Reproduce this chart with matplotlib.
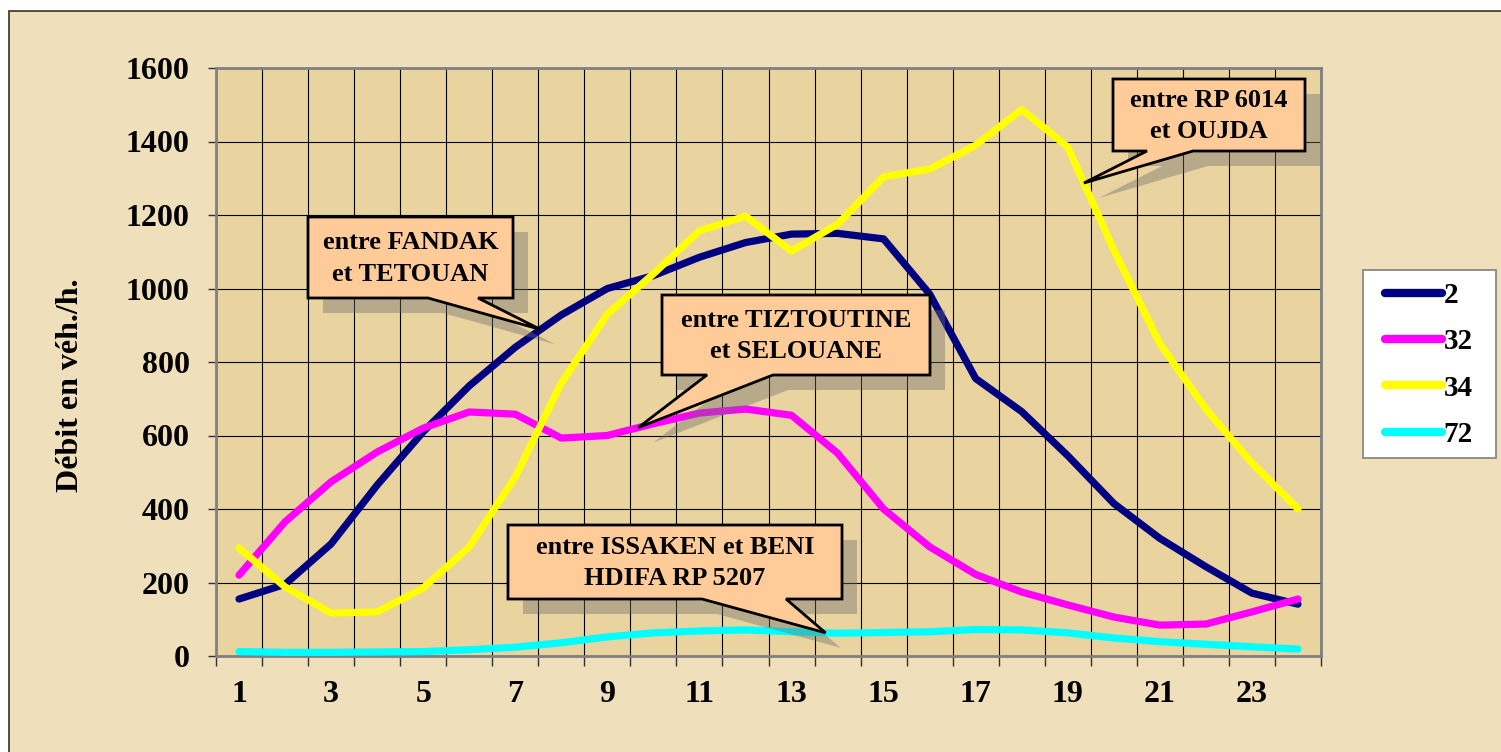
import numpy as np
import matplotlib
matplotlib.use('Agg')
import matplotlib.pyplot as plt
from matplotlib.patches import Polygon, Rectangle
from matplotlib.lines import Line2D

# hourly traffic (veh/h) per road
hours = list(range(1, 25))
route_2 = [155, 195, 305, 465, 610, 735, 840, 928, 1000, 1035, 1085, 1125, 1148, 1150, 1135, 985,
           755, 665, 545, 415, 320, 243, 171, 141]
route_32 = [220, 365, 474, 555, 620, 664, 658, 593, 600, 632, 661, 672, 655, 552, 400, 297,
            222, 174, 139, 106, 84, 87, 120, 155]
route_34 = [294, 188, 117, 120, 185, 297, 487, 743, 930, 1040, 1157, 1197, 1102, 1175, 1304, 1325,
            1390, 1487, 1385, 1105, 850, 672, 525, 400]
route_72 = [12, 10, 10, 11, 12, 17, 24, 36, 52, 63, 68, 71, 66, 62, 64, 66,
            72, 71, 63, 49, 39, 32, 25, 19]

series = [route_2, route_32, route_34, route_72]
series_names = ['2', '32', '34', '72']
series_colors = ['#000080', '#FF00FF', '#FFFF00', '#00FFFF']

y_ticks = [0, 200, 400, 600, 800, 1000, 1200, 1400, 1600]
x_tick_labels = [1, 3, 5, 7, 9, 11, 13, 15, 17, 19, 21, 23]
y_label = 'Débit en véh./h.'

# callout text, series index, hour position of the pointer
callout_texts = ['entre FANDAK\net TETOUAN', 'entre TIZTOUTINE\net SELOUANE',
                 'entre RP 6014\net OUJDA', 'entre ISSAKEN et BENI\nHDIFA RP 5207']
callout_series = [0, 1, 2, 3]
callout_hours = [7.55, 9.67, 19.35, 13.74]

W, H = 1501, 752
SERIF = 'Liberation Serif'

fig = plt.figure(figsize=(W / 100, H / 100), dpi=100, facecolor='white')


def fx(px):
    return px / W


def fy(py):
    return 1 - py / H


# outer chart frame
fig.patches.append(Rectangle((fx(9), fy(770)), fx(1520 - 9), fy(11) - fy(770),
                             transform=fig.transFigure, facecolor='#F0DFBB',
                             edgecolor='#3a3020', lw=1.2, zorder=-5))

ax = fig.add_axes([fx(216), fy(656), fx(1321 - 216), fy(68) - fy(656)])
ax.set_zorder(1)
ax.set_facecolor('#E9D39F')

for vals, name, col in zip(series, series_names, series_colors):
    ax.plot(hours, vals, color=col, lw=5.2, label=name, zorder=3,
            solid_capstyle='round', solid_joinstyle='round')

ax.set_xlim(0.5, 24.5)
ax.set_ylim(0, 1600)
ax.set_yticks(y_ticks)
ax.set_xticks(x_tick_labels)
ax.set_xticks(np.arange(0.5, 25, 1), minor=True)
ax.grid(which='minor', axis='x', color='black', lw=0.8, zorder=1)
ax.grid(which='major', axis='y', color='black', lw=0.8, zorder=1)
ax.grid(which='major', axis='x', visible=False)

for s in ax.spines.values():
    s.set_color('#808080')
    s.set_linewidth(2)

ax.tick_params(axis='y', length=6, width=1, color='#303030', pad=13,
               labelsize=23)
ax.tick_params(axis='x', which='major', length=0, pad=17, labelsize=23)
ax.tick_params(axis='x', which='minor', length=7.5, width=1, color='#303030')
for lbl in ax.get_xticklabels() + ax.get_yticklabels():
    lbl.set_fontfamily(SERIF)
    lbl.set_fontweight('bold')

ax.set_ylabel(y_label, fontfamily=SERIF, fontweight='bold', fontsize=23)
ax.yaxis.set_label_coords(-0.1186, 0.461)

# callout boxes: box (x0, y0, x1, y1) and tail base (b0, b1) in pixels from top-left
boxes = [(308, 217, 513, 298), (662, 295, 930, 375), (1113, 79, 1305, 151), (508, 525, 842, 599)]
bases = [(428, 478), (707, 773), (1147, 1193), (702, 786)]

to_fig = fig.transFigure.inverted()
for text, si, xh, box, base in zip(callout_texts, callout_series, callout_hours, boxes, bases):
    yv = np.interp(xh, hours, series[si])
    tip = to_fig.transform(ax.transData.transform((xh, yv)))
    x0, y0, x1, y1 = box
    b0, b1 = base
    pts = [(fx(x0), fy(y0)), (fx(x1), fy(y0)), (fx(x1), fy(y1)), (fx(b1), fy(y1)),
           tuple(tip), (fx(b0), fy(y1)), (fx(x0), fy(y1))]
    shadow = [(px + fx(15), py - 15 / H) for px, py in pts]
    fig.patches.append(Polygon(shadow, closed=True, transform=fig.transFigure,
                               facecolor='#6e6e6e', alpha=0.4, lw=0, zorder=4))
    fig.patches.append(Polygon(pts, closed=True, transform=fig.transFigure,
                               facecolor='#FFCC99', edgecolor='black', lw=2, zorder=5))
    fig.text(fx((x0 + x1) / 2), fy((y0 + y1) / 2 + 1), text, ha='center', va='center',
             fontsize=19, fontweight='bold', fontfamily=SERIF, linespacing=1.45, zorder=6)

# legend: white frame drawn separately, entries placed inside it
fig.patches.append(Rectangle((fx(1363), fy(458)), fx(1496 - 1363), fy(270) - fy(458),
                             transform=fig.transFigure, facecolor='white',
                             edgecolor='#808080', lw=1.2, zorder=6))
handles = [Line2D([], [], color=c, lw=6, solid_capstyle='round') for c in series_colors]
leg = fig.legend(handles, series_names, loc='upper left',
                 bbox_to_anchor=(fx(1385), fy(282)), bbox_transform=fig.transFigure,
                 frameon=False, borderaxespad=0, borderpad=0,
                 handlelength=1.95, handletextpad=0.05, labelspacing=0.66,
                 prop={'family': SERIF, 'weight': 'bold', 'size': 21})
leg.set_zorder(7)

fig.savefig('out.png', dpi=100, facecolor='white')
